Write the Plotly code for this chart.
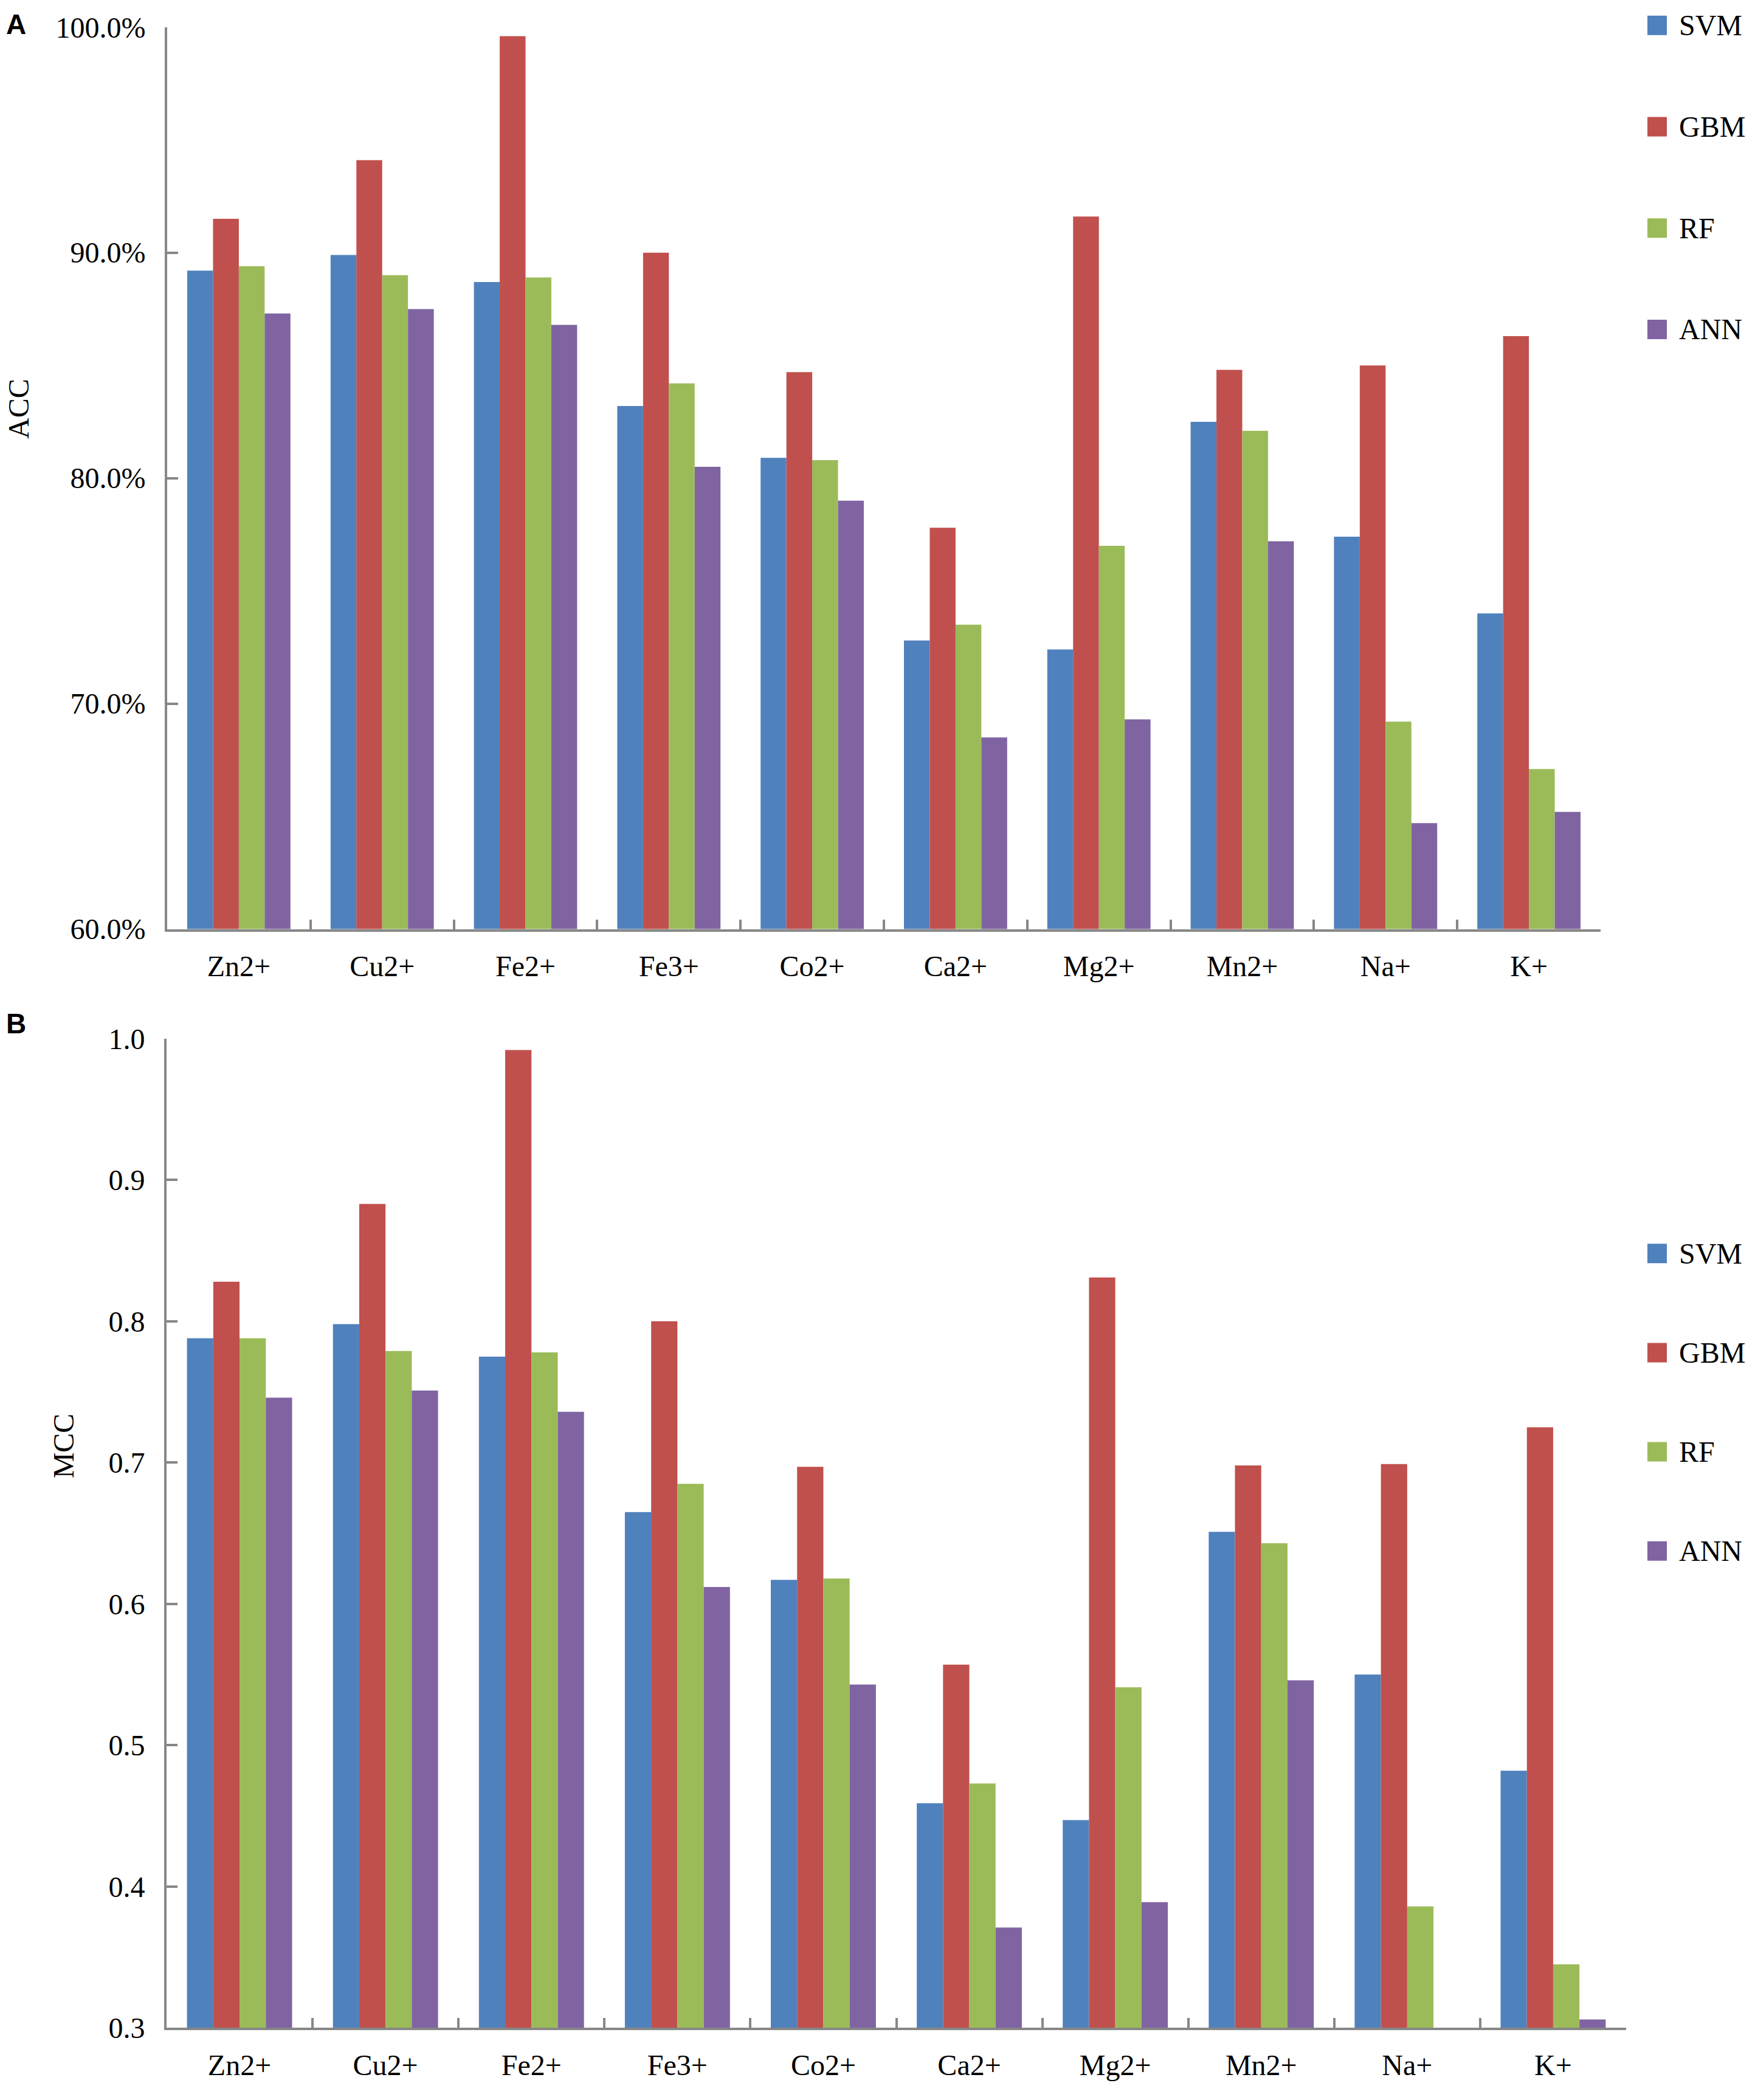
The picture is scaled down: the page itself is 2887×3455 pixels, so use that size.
import plotly.graph_objects as go

W, H = 2887, 3455

categories = ["Zn2+", "Cu2+", "Fe2+", "Fe3+", "Co2+", "Ca2+", "Mg2+", "Mn2+", "Na+", "K+"]
series = ["SVM", "GBM", "RF", "ANN"]
colors = ["#4F81BD", "#C0504D", "#9BBB59", "#8064A2"]

acc_svm = [89.2, 89.9, 88.7, 83.2, 80.9, 72.8, 72.4, 82.5, 77.4, 74.0]
acc_gbm = [91.5, 94.1, 99.6, 90.0, 84.7, 77.8, 91.6, 84.8, 85.0, 86.3]
acc_rf = [89.4, 89.0, 88.9, 84.2, 80.8, 73.5, 77.0, 82.1, 69.2, 67.1]
acc_ann = [87.3, 87.5, 86.8, 80.5, 79.0, 68.5, 69.3, 77.2, 64.7, 65.2]

mcc_svm = [0.788, 0.798, 0.775, 0.665, 0.617, 0.459, 0.447, 0.651, 0.550, 0.482]
mcc_gbm = [0.828, 0.883, 0.992, 0.800, 0.697, 0.557, 0.831, 0.698, 0.699, 0.725]
mcc_rf = [0.788, 0.779, 0.778, 0.685, 0.618, 0.473, 0.541, 0.643, 0.386, 0.345]
mcc_ann = [0.746, 0.751, 0.736, 0.612, 0.543, 0.371, 0.389, 0.546, None, 0.306]

acc_ticks = [60, 70, 80, 90, 100]
mcc_ticks = [0.3, 0.4, 0.5, 0.6, 0.7, 0.8, 0.9, 1.0]

acc_data = [acc_svm, acc_gbm, acc_rf, acc_ann]
mcc_data = [mcc_svm, mcc_gbm, mcc_rf, mcc_ann]

SERIF = "Liberation Serif, Times New Roman, serif"
AXC = "#878787"
FS = 48

fig = go.Figure()

for name, col, vals in zip(series, colors, acc_data):
    fig.add_trace(go.Bar(x=categories, y=vals, name=name, marker=dict(color=col, line=dict(width=0)),
                         xaxis="x", yaxis="y", showlegend=False))
for name, col, vals in zip(series, colors, mcc_data):
    fig.add_trace(go.Bar(x=categories, y=vals, name=name, marker=dict(color=col, line=dict(width=0)),
                         xaxis="x2", yaxis="y2", showlegend=False))

# legend swatches (large squares, as in the original)
for ax in ["3", "4"]:
    for name, col in zip(series, colors):
        fig.add_trace(go.Scatter(x=[0], y=[name], mode="markers", xaxis="x" + ax, yaxis="y" + ax,
                                 marker=dict(symbol="square", size=32, color=col),
                                 cliponaxis=False, showlegend=False, hoverinfo="skip"))

def px_x(p):
    return p / W

def px_y(p):
    return 1 - p / H

common_x = dict(showline=True, linecolor=AXC, linewidth=4, ticks="inside", tickson="boundaries",
                ticklen=16, tickwidth=4, tickcolor=AXC, showgrid=False, zeroline=False,
                tickfont=dict(family=SERIF, size=FS, color="black"), ticklabelstandoff=16)
common_y = dict(showline=True, linecolor=AXC, linewidth=4, ticks="inside", ticklen=18, tickwidth=4,
                tickcolor=AXC, showgrid=False, zeroline=False,
                tickfont=dict(family=SERIF, size=FS, color="black"), ticklabelstandoff=22)

def ann(text, x, y, size=FS, family=SERIF, angle=0):
    return dict(text=text, x=px_x(x), y=px_y(y), xref="paper", yref="paper", showarrow=False,
                xanchor="center", yanchor="middle", textangle=angle,
                font=dict(family=family, size=size, color="black"))

annotations = [
    ann("<b>A</b>", 26, 14, size=46, family="Liberation Sans, Arial"),
    ann("<b>B</b>", 26, 1684, size=46, family="Liberation Sans, Arial"),
    ann("ACC", 31, 657, angle=-90),
    ann("MCC", 104, 2390, angle=-90),
]
for ax in ["3", "4"]:
    for name in series:
        annotations.append(dict(text=name, x=0, y=name, xref="x" + ax, yref="y" + ax, xanchor="left",
                                yanchor="middle", xshift=34, showarrow=False,
                                font=dict(family=SERIF, size=FS, color="black")))

fig.update_layout(
    width=W, height=H, margin=dict(l=0, r=0, t=0, b=0),
    paper_bgcolor="white", plot_bgcolor="white",
    barmode="group", bargap=0.28, bargroupgap=0,
    xaxis=dict(domain=[px_x(275), px_x(2633)], anchor="y", **common_x),
    yaxis=dict(domain=[px_y(1526), px_y(19)], anchor="x", range=[60, 100], tickvals=acc_ticks,
               ticktext=[f"{v:.1f}%" for v in acc_ticks], **common_y),
    xaxis2=dict(domain=[px_x(274), px_x(2675)], anchor="y2", **common_x),
    yaxis2=dict(domain=[px_y(3362), px_y(1709)], anchor="x2", range=[0.3, 1.0], tickvals=mcc_ticks,
                ticktext=[f"{v:.1f}" for v in mcc_ticks], **common_y),
    xaxis3=dict(domain=[px_x(2726), 1], anchor="y3", range=[0, 1], visible=False),
    yaxis3=dict(domain=[px_y(524), px_y(16)], anchor="x3", type="category", categoryarray=series,
                range=[3, 0], visible=False),
    xaxis4=dict(domain=[px_x(2726), 1], anchor="y4", range=[0, 1], visible=False),
    yaxis4=dict(domain=[px_y(2565), px_y(2068)], anchor="x4", type="category", categoryarray=series,
                range=[3, 0], visible=False),
    annotations=annotations,
)

page_fix = (
    "document.documentElement.style.margin='0';document.documentElement.style.padding='0';"
    "document.body.style.margin='0';document.body.style.padding='0';document.body.style.overflow='hidden';"
    "var d=document.getElementById('{plot_id}');d.style.position='absolute';d.style.top='0px';d.style.left='0px';"
)

fig.write_html("out.html", post_script=page_fix, config={"displayModeBar": False})
